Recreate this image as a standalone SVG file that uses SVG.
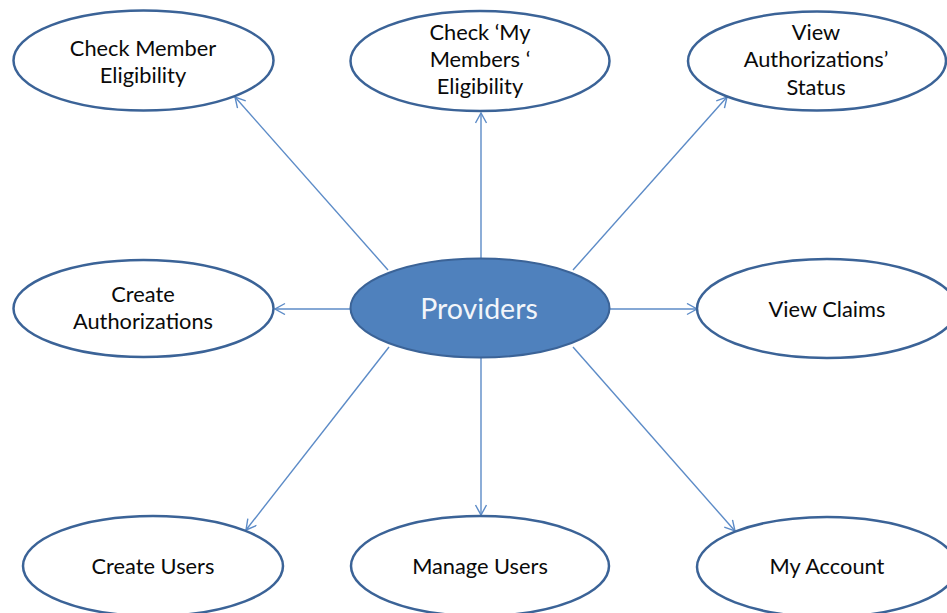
<svg xmlns="http://www.w3.org/2000/svg" width="947" height="613" viewBox="0 0 947 613">
<style>
.n{fill:#fff;stroke:#3B6397;stroke-width:2.5}
.c{fill:#4F81BD;stroke:#3B6397;stroke-width:2}
.t{font-family:Lato,"Open Sans","Liberation Sans",sans-serif;font-size:21.8px;fill:#0a0a0a;text-anchor:middle}
.tc{font-family:Lato,"Open Sans","Liberation Sans",sans-serif;font-size:28.5px;fill:#F2F5FA;text-anchor:middle}
.e{stroke:#5C8BC7;stroke-width:1.4;fill:none;marker-end:url(#a)}
</style>
<defs>
<marker id="a" markerWidth="14" markerHeight="14" refX="11" refY="6" orient="auto" markerUnits="userSpaceOnUse">
<path d="M1,0.5 L11,6 L1,11.5" fill="none" stroke="#5C8BC7" stroke-width="1.4"/>
</marker>
</defs>
<g id="connectors">
<line class="e" x1="388" y1="270" x2="235" y2="97"/>
<line class="e" x1="481" y1="258" x2="481" y2="113"/>
<line class="e" x1="573" y1="270" x2="727" y2="97"/>
<line class="e" x1="350" y1="309" x2="275" y2="309"/>
<line class="e" x1="609" y1="309" x2="697" y2="309"/>
<line class="e" x1="389" y1="347" x2="246" y2="530"/>
<line class="e" x1="481" y1="358" x2="481" y2="515"/>
<line class="e" x1="573" y1="347" x2="735" y2="531"/>
</g>
<g id="providers">
<ellipse class="c" cx="480" cy="308" rx="129.5" ry="49.5"/>
<text class="tc" x="479" y="319">Providers</text>
</g>
<g id="check-member-eligibility">
<ellipse class="n" cx="143.5" cy="60.5" rx="130" ry="50"/>
<text class="t" x="143" y="56">Check Member</text>
<text class="t" x="143" y="83">Eligibility</text>
</g>
<g id="check-my-members-eligibility">
<ellipse class="n" cx="480" cy="61" rx="129.5" ry="50"/>
<text class="t" x="480" y="40">Check ‘My</text>
<text class="t" x="480" y="67">Members ‘</text>
<text class="t" x="480" y="94">Eligibility</text>
</g>
<g id="view-authorizations-status">
<ellipse class="n" cx="817" cy="61" rx="129" ry="49.5"/>
<text class="t" x="816" y="40">View</text>
<text class="t" x="816" y="67">Authorizations’</text>
<text class="t" x="816" y="95">Status</text>
</g>
<g id="create-authorizations">
<ellipse class="n" cx="143.5" cy="308.5" rx="130" ry="48.5"/>
<text class="t" x="143" y="302">Create</text>
<text class="t" x="143" y="329">Authorizations</text>
</g>
<g id="view-claims">
<ellipse class="n" cx="827" cy="308.5" rx="130" ry="49.5"/>
<text class="t" x="827" y="317">View Claims</text>
</g>
<g id="create-users">
<ellipse class="n" cx="153" cy="566" rx="130" ry="50"/>
<text class="t" x="153" y="574">Create Users</text>
</g>
<g id="manage-users">
<ellipse class="n" cx="480" cy="566" rx="129" ry="50"/>
<text class="t" x="480" y="574">Manage Users</text>
</g>
<g id="my-account">
<ellipse class="n" cx="827" cy="567" rx="130" ry="50"/>
<text class="t" x="827" y="574">My Account</text>
</g>
</svg>
